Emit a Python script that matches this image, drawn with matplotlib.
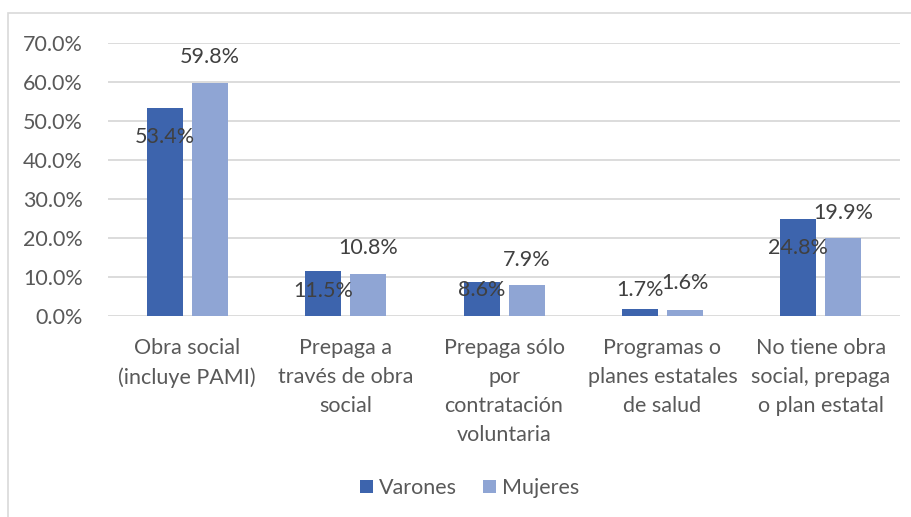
#!/usr/bin/env python3
"""
plot.py

Cobertura de salud por sexo (Varones / Mujeres), barras agrupadas.
"""

import matplotlib.pyplot as plt
import numpy as np
from matplotlib.patches import Rectangle
from matplotlib.ticker import PercentFormatter

categories = [
    'Obra social\n(incluye PAMI)',
    'Prepaga a\ntravés de obra\nsocial',
    'Prepaga sólo\npor\ncontratación\nvoluntaria',
    'Programas o\nplanes estatales\nde salud',
    'No tiene obra\nsocial, prepaga\no plan estatal',
]
varones = [53.4, 11.5, 8.6, 1.7, 24.8]
mujeres = [59.8, 10.8, 7.9, 1.6, 19.9]

# Where the data labels sit (value axis), as in the original sheet.
varones_label_at = [45.9, 6.4, 6.6, 6.7, 17.4]
mujeres_label_at = [66.4, 17.4, 14.4, 8.5, 26.4]

C_VAR = '#3d64ad'
C_MUJ = '#8fa5d4'
TXT = '#404040'
TICK = '#595959'
FS = 15.5

plt.rcParams['font.family'] = ['Lato', 'DejaVu Sans']

fig = plt.figure(figsize=(9.12, 5.17), dpi=100)
ax = fig.add_axes([0.1184, 0.3888, 0.8686, 0.528])

# Light outer frame like the spreadsheet chart area.
fig.patches.append(Rectangle((0.009, -0.01), 1.2, 0.985, transform=fig.transFigure,
                             fill=False, edgecolor='#d9d9d9', linewidth=1.2))

x = np.arange(len(categories))
w = 0.227
off = 0.142

ax.bar(x - off, varones, w, color=C_VAR, label='Varones', zorder=3)
ax.bar(x + off, mujeres, w, color=C_MUJ, label='Mujeres', zorder=3)

for i in range(len(categories)):
    ax.text(x[i] - off, varones_label_at[i], f'{varones[i]:.1f}%', ha='center',
            va='center', fontsize=FS, color=TXT, zorder=4)
    ax.text(x[i] + off, mujeres_label_at[i], f'{mujeres[i]:.1f}%', ha='center',
            va='center', fontsize=FS, color=TXT, zorder=4)

ax.set_xlim(-0.5, len(categories) - 0.5)
ax.set_ylim(0, 70)
ax.set_yticks(np.arange(0, 71, 10))
ax.yaxis.set_major_formatter(PercentFormatter(decimals=1))
ax.grid(axis='y', color='#d9d9d9', linewidth=1.3, zorder=0)
for s in ax.spines.values():
    s.set_visible(False)
ax.tick_params(axis='both', length=0, labelsize=FS, colors=TICK)
ax.tick_params(axis='y', pad=18)
ax.set_xticks(x)
ax.set_xticklabels(categories, linespacing=1.55, va='top')
ax.tick_params(axis='x', pad=16)

fig.legend(loc='center', bbox_to_anchor=(0.515, 0.056), ncol=2, frameon=False,
           fontsize=FS, handlelength=0.6, handleheight=0.6, handletextpad=0.3,
           columnspacing=1.2, labelcolor=TICK)

fig.savefig('out.png', dpi=100)
